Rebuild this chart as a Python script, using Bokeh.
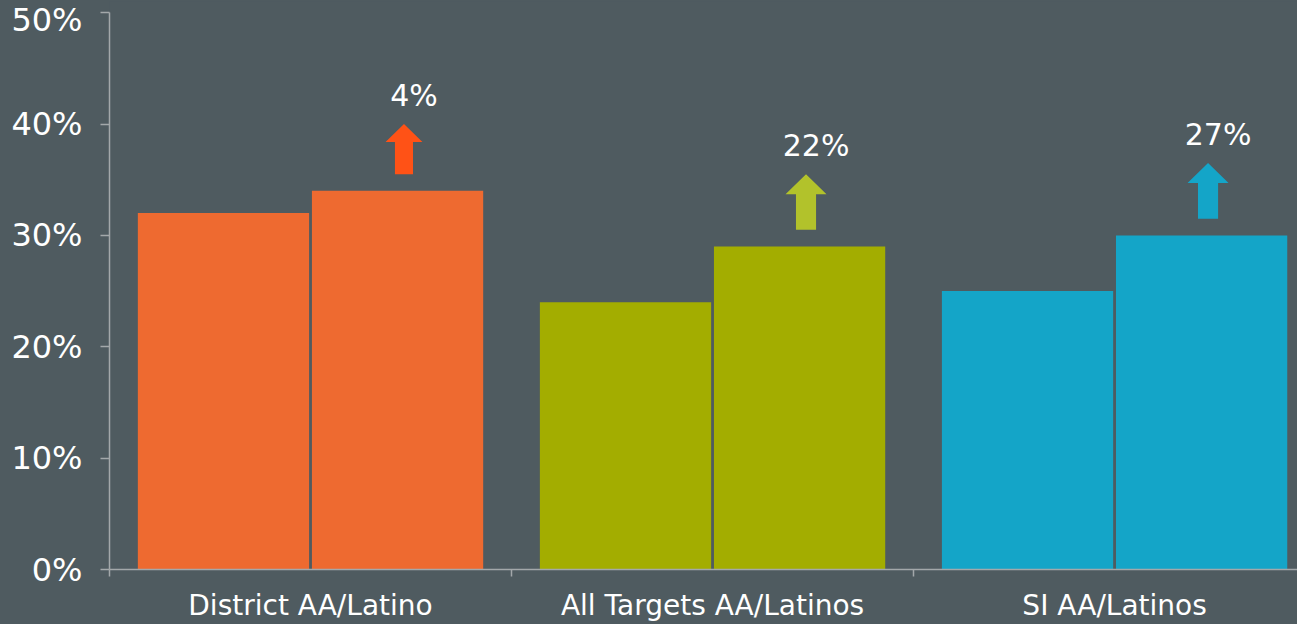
from bokeh.plotting import figure
from bokeh.models import Range1d, FixedTicker
from bokeh.embed import file_html
from bokeh.resources import INLINE
from bokeh.core.properties import value

# ---- data ----
categories = ["District AA/Latino", "All Targets AA/Latinos", "SI AA/Latinos"]
before = [32, 24, 25]
after = [34, 29, 30]
change_labels = ["4%", "22%", "27%"]
bar_colors = ["#ee6a30", "#a3ad00", "#14a5c8"]
arrow_colors = ["#ff5216", "#b2c22b", "#14a5c8"]
arrow_scale = [0.9, 1.0, 1.0]
y_ticks = [0, 10, 20, 30, 40, 50]
y_tick_labels = ["0%", "10%", "20%", "30%", "40%", "50%"]

BG = "#4f5b60"
AXIS = "#a3a8aa"
FONT = "DejaVu Sans"

p = figure(width=1297, height=624, output_backend="svg", toolbar_location=None,
           x_range=Range1d(0, 2.955), y_range=Range1d(0, 51),
           min_border_left=109, min_border_right=0, min_border_top=1,
           min_border_bottom=55, tools="",
           background_fill_color=BG, border_fill_color=BG)
p.styles = {"background-color": BG}
p.outline_line_color = None
p.title.visible = False
p.xgrid.visible = False
p.ygrid.visible = False

idx = list(range(len(categories)))
x1 = [i + 0.2835 for i in idx]
x2 = [i + 0.7165 for i in idx]

p.vbar(x=x1, top=before, bottom=0, width=0.426, fill_color=bar_colors, line_color=None)
p.vbar(x=x2, top=after, bottom=0, width=0.426, fill_color=bar_colors, line_color=None)

# arrows built from the data values
xs, ys, lx, ly = [], [], [], []
for i in idx:
    s = arrow_scale[i]
    cx = x2[i] + 0.016
    hw, sw = 0.051 * s, 0.025 * s
    base = after[i] + 1.5
    neck = base + 3.2 * s
    tip = neck + 1.8 * s
    xs.append([cx - sw, cx + sw, cx + sw, cx + hw, cx, cx - hw, cx - sw])
    ys.append([base, base, neck, neck, tip, neck, neck])
    lx.append(cx + 0.025)
    ly.append(tip + 2.6)

p.patches(xs=xs, ys=ys, fill_color=arrow_colors, line_color=None)
p.text(x=lx, y=ly, text=change_labels, text_align="center", text_baseline="middle",
       text_font=value(FONT), text_font_size="30px", text_color="#ffffff")

# y axis
ya = p.yaxis[0]
ya.bounds = (0, 50)
ya.ticker = FixedTicker(ticks=y_ticks)
ya.major_label_overrides = {t: l for t, l in zip(y_ticks, y_tick_labels)}
ya.major_tick_out = 9
ya.major_tick_in = 0
ya.minor_tick_line_color = None
ya.axis_line_color = AXIS
ya.axis_line_width = 1.5
ya.major_tick_line_color = AXIS
ya.major_tick_line_width = 1.5
ya.major_label_text_font = FONT
ya.major_label_text_font_size = "32px"
ya.major_label_text_color = "#ffffff"
ya.major_label_standoff = 18

# x axis
xa = p.xaxis[0]
xa.ticker = FixedTicker(ticks=[i + 0.5 for i in idx], minor_ticks=[0, 1, 2, 3])
xa.major_label_overrides = {i + 0.5: c for i, c in zip(idx, categories)}
xa.major_tick_out = 0
xa.major_tick_in = 0
xa.major_tick_line_color = None
xa.minor_tick_out = 7
xa.minor_tick_in = 0
xa.minor_tick_line_color = AXIS
xa.minor_tick_line_width = 1.5
xa.axis_line_color = AXIS
xa.axis_line_width = 1.5
xa.major_label_text_font = FONT
xa.major_label_text_font_size = "28px"
xa.major_label_text_color = "#ffffff"
xa.major_label_standoff = 12

open("out.html", "w").write(file_html(p, INLINE))
